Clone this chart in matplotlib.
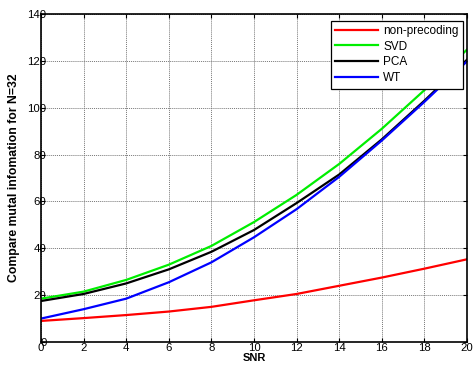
import numpy as np
import matplotlib.pyplot as plt

plt.rcParams['font.family'] = ['Liberation Sans', 'DejaVu Sans']

snr = [0, 2, 4, 6, 8, 10, 12, 14, 16, 18, 20]
non_precoding = [9, 10.2, 11.5, 13, 15, 17.8, 20.5, 24, 27.5, 31.3, 35.3]
svd = [18.5, 21.5, 26.5, 33, 41, 51.2, 62.8, 76, 91, 107.5, 124.8]
pca = [17.5, 20.5, 25, 31, 38.5, 47.8, 59.3, 71.5, 86.5, 103, 120.5]
wt = [10, 14, 18.5, 25.5, 34, 44.7, 56.7, 70.5, 86, 102.5, 119.8]

fig = plt.figure(figsize=(4.75, 3.67), dpi=100)
ax = fig.add_axes([41/475, 1 - 342/367, 426/475, 328/367])

ax.plot(snr, non_precoding, color='#ff0000', lw=1.6, label='non-precoding')
ax.plot(snr, svd, color='#00ee00', lw=1.6, label='SVD')
ax.plot(snr, pca, color='black', lw=1.6, label='PCA')
ax.plot(snr, wt, color='#0000ff', lw=1.6, label='WT')

ax.set_xlim(0, 20)
ax.set_ylim(0, 140)
ax.set_xticks(np.arange(0, 21, 2))
ax.set_yticks(np.arange(0, 141, 20))
ax.grid(True, color='#777777', linestyle=(0, (1, 1)), linewidth=0.7)
ax.tick_params(direction='in', length=3, width=0.8, top=True, right=True,
               labelsize=8.2, colors='black')
ax.tick_params(axis='y', pad=-4)
ax.tick_params(axis='x', pad=1)
for s in ax.spines.values():
    s.set_linewidth(1.2)

ax.set_xlabel('SNR', fontsize=8, fontweight='bold', labelpad=0)
ax.set_ylabel('Compare mutal infomation for N=32', fontsize=8.8,
              fontweight='bold', labelpad=5)

leg = ax.legend(loc='upper right', bbox_to_anchor=(0.99, 0.98), fontsize=8.5,
                fancybox=False, framealpha=1, edgecolor='black',
                handlelength=3.6, borderpad=0.35, labelspacing=0.33,
                handletextpad=0.45, borderaxespad=0)
leg.get_frame().set_linewidth(0.9)

fig.savefig('out.png', dpi=100)
